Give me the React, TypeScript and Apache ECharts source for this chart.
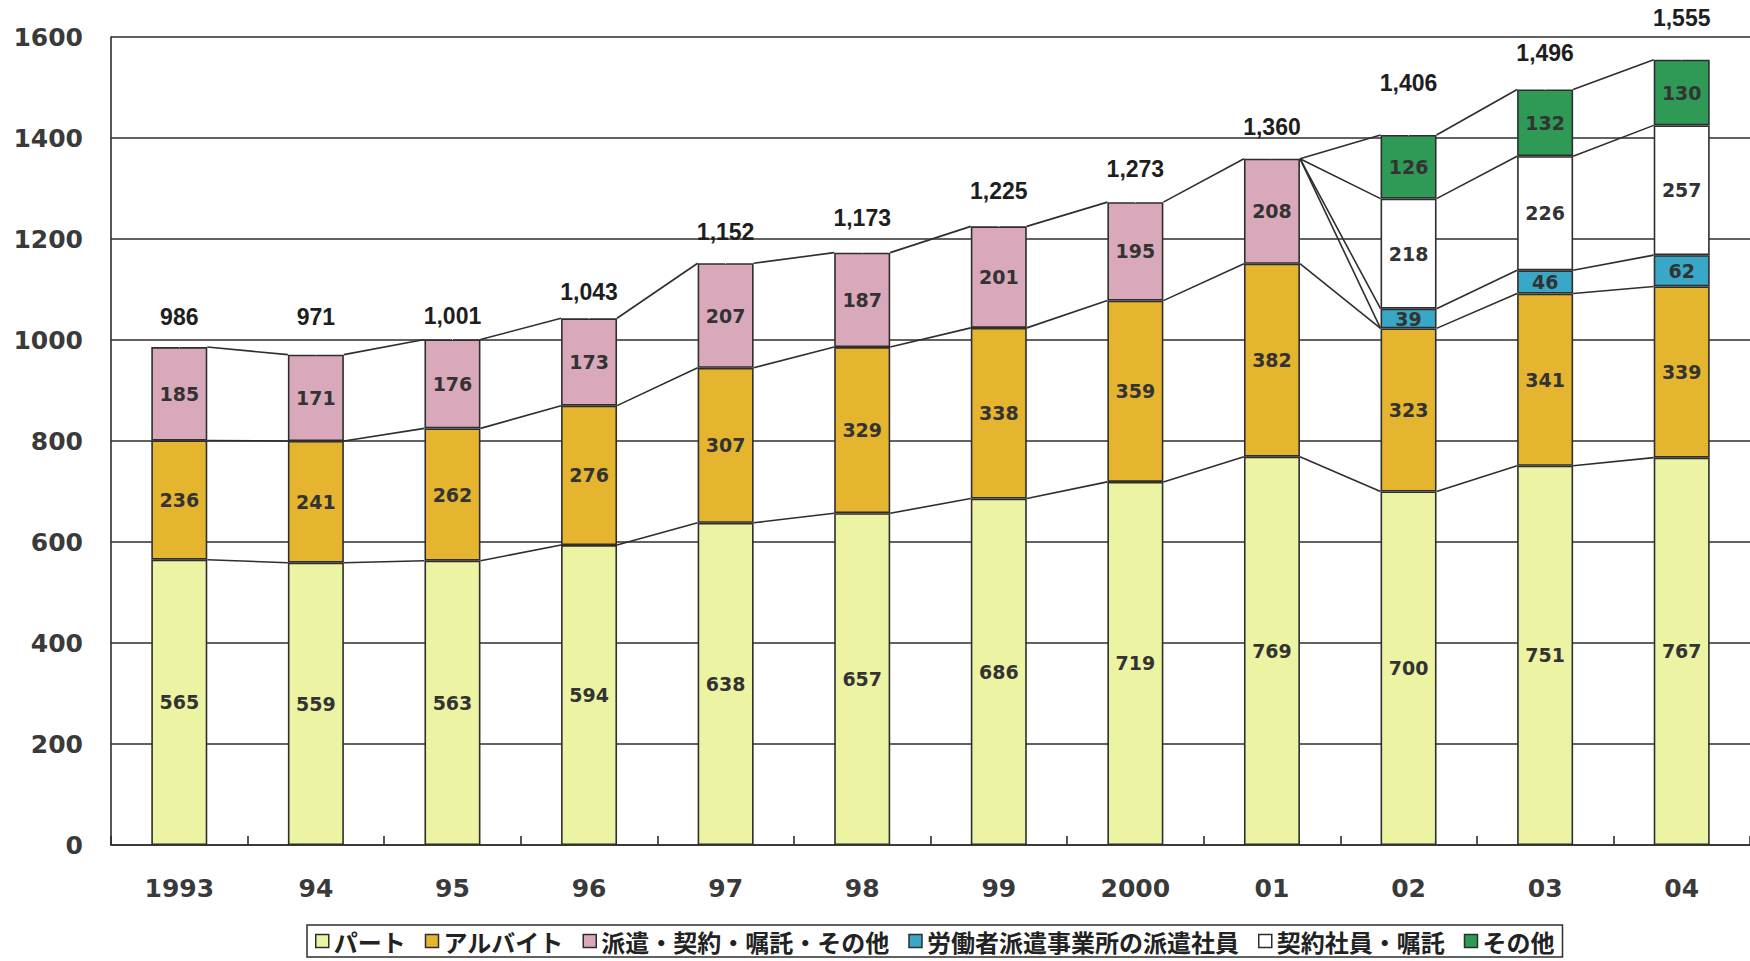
import React, { useEffect, useRef } from "react";
import * as echarts from "echarts";

const years = ["1993", "94", "95", "96", "97", "98", "99", "2000", "01", "02", "03", "04"];
const part = [565, 559, 563, 594, 638, 657, 686, 719, 769, 700, 751, 767];
const arbeit = [236, 241, 262, 276, 307, 329, 338, 359, 382, 323, 341, 339];
const hakenKeiyakuEtc = [185, 171, 176, 173, 207, 187, 201, 195, 208, null, null, null];
const hakenShain = [null, null, null, null, null, null, null, null, null, 39, 46, 62];
const keiyakuShokutaku = [null, null, null, null, null, null, null, null, null, 218, 226, 257];
const sonota = [null, null, null, null, null, null, null, null, null, 126, 132, 130];
const totals = [986, 971, 1001, 1043, 1152, 1173, 1225, 1273, 1360, 1406, 1496, 1555];
const yTicks = { min: 0, max: 1600, interval: 200 };

// style-only: gap (px) between bar top and its total label
const totalLabelGap = [18, 26, 11, 14, 19, 23, 23, 21, 19, 40, 25, 30];

const BAR_W = 56;
const LINE = "#2e2e2e";

const stackSeries = [
  { name: "パート", data: part, color: "#ecf3a3", group: 0 },
  { name: "アルバイト", data: arbeit, color: "#e5b52f", group: 1 },
  { name: "派遣・契約・嘱託・その他", data: hakenKeiyakuEtc, color: "#d9a9bb", group: 2 },
  { name: "労働者派遣事業所の派遣社員", data: hakenShain, color: "#38a8c6", group: 2 },
  { name: "契約社員・嘱託", data: keiyakuShokutaku, color: "#ffffff", group: 2 },
  { name: "その他", data: sonota, color: "#2e9a56", group: 2 },
];

function segments(i: number) {
  const segs: { idx: number; group: number; bottom: number; top: number }[] = [];
  let acc = 0;
  stackSeries.forEach((s, idx) => {
    const v = s.data[i];
    if (v != null) {
      segs.push({ idx, group: s.group, bottom: acc, top: acc + v });
      acc += v;
    }
  });
  return segs;
}

function connectorPairs() {
  const pairs: number[][] = [];
  for (let i = 0; i < years.length - 1; i++) {
    const a = segments(i);
    const b = segments(i + 1);
    for (let g = 0; g < 3; g++) {
      const prev = a.filter((s) => s.group === g);
      const next = b.filter((s) => s.group === g);
      if (!prev.length || !next.length) continue;
      const same = prev.map((s) => s.idx).join() === next.map((s) => s.idx).join();
      if (same) {
        prev.forEach((s, k) => pairs.push([i, s.top, next[k].top]));
      } else {
        const pTop = prev[prev.length - 1].top;
        pairs.push([i, pTop, next[0].bottom]);
        next.forEach((s) => pairs.push([i, pTop, s.top]));
      }
    }
  }
  return pairs;
}

export default function App() {
  const ref = useRef<HTMLDivElement>(null);
  useEffect(() => {
    if (!ref.current) return;
    const chart = echarts.init(ref.current, undefined, { renderer: "svg" });
    const axisFont = {
      fontFamily: "DejaVu Sans",
      fontWeight: "bold" as const,
      fontSize: 25,
      color: "#3a3a3a",
    };
    const barSeries = stackSeries.map((s) => ({
      name: s.name,
      type: "bar",
      stack: "total",
      barWidth: BAR_W,
      data: s.data,
      itemStyle: { color: s.color, borderColor: LINE, borderWidth: 1.6 },
      label: {
        show: true,
        position: "inside",
        fontFamily: "DejaVu Sans",
        fontWeight: "bold",
        fontSize: 19,
        color: "#333",
        formatter: (p: any) => (p.value == null ? "" : String(p.value)),
      },
      z: 3,
    }));
    chart.setOption({
      animation: false,
      backgroundColor: "#ffffff",
      grid: { left: 111, top: 37, width: 1642, height: 808, containLabel: false },
      xAxis: {
        type: "category",
        data: years,
        boundaryGap: true,
        axisLine: { show: true, lineStyle: { color: LINE, width: 1.6 } },
        axisTick: { show: true, inside: true, length: 9, alignWithLabel: false, lineStyle: { color: LINE, width: 1.6 } },
        axisLabel: { ...axisFont, margin: 31 },
        splitLine: { show: false },
      },
      yAxis: {
        type: "value",
        min: yTicks.min,
        max: yTicks.max,
        interval: yTicks.interval,
        axisLine: { show: true, lineStyle: { color: LINE, width: 1.6 } },
        axisTick: { show: false },
        axisLabel: { ...axisFont, margin: 28, formatter: (v: number) => String(v) },
        splitLine: { show: true, lineStyle: { color: LINE, width: 1.6 } },
      },
      legend: {
        data: stackSeries.map((s) => s.name),
        left: 307,
        top: 925,
        orient: "horizontal",
        padding: [4, 8],
        itemGap: 19,
        itemWidth: 13,
        itemHeight: 13,
        icon: "rect",
        borderColor: LINE,
        borderWidth: 1.5,
        borderRadius: 0,
        itemStyle: { borderColor: LINE, borderWidth: 1.5 },
        textStyle: {
          fontFamily: "Noto Sans CJK JP",
          fontWeight: "bold",
          fontSize: 24,
          color: "#222",
        },
      },
      series: [
        ...barSeries,
        {
          name: "connectors",
          type: "custom",
          data: connectorPairs(),
          dimensions: ["i", "from", "to"],
          encode: { x: 0, y: 1 },
          clip: false,
          z: 4,
          silent: true,
          renderItem: (_params: any, api: any) => {
            const i = api.value(0);
            const p1 = api.coord([i, api.value(1)]);
            const p2 = api.coord([i + 1, api.value(2)]);
            return {
              type: "line",
              shape: { x1: p1[0] + BAR_W / 2, y1: p1[1], x2: p2[0] - BAR_W / 2, y2: p2[1] },
              style: { stroke: LINE, lineWidth: 1.6 },
            };
          },
        },
        {
          name: "totals",
          type: "scatter",
          symbolSize: 1,
          itemStyle: { color: "#ffffff", opacity: 1 },
          z: 5,
          silent: true,
          data: totals.map((t, i) => ({
            value: t,
            label: { distance: totalLabelGap[i] },
          })),
          label: {
            show: true,
            position: "top",
            fontFamily: "Liberation Sans",
            fontWeight: 700,
            fontSize: 23,
            color: "#1e1e1e",
            opacity: 1,
            formatter: (p: any) => Number(p.value).toLocaleString("en-US"),
          },
        },
      ],
    });
    return () => chart.dispose();
  }, []);
  return (
    <div
      ref={ref}
      style={{ position: "fixed", left: 0, top: 0, width: 1750, height: 961, background: "#fff" }}
    />
  );
}
